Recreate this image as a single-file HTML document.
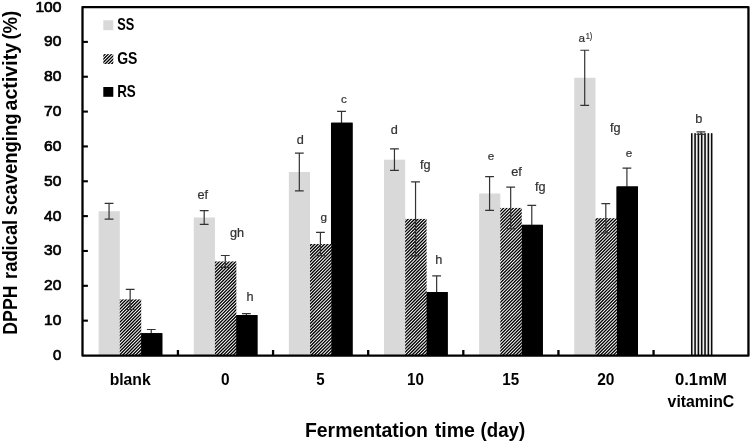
<!DOCTYPE html>
<html lang="en"><head><meta charset="utf-8"><title>DPPH radical scavenging activity</title>
<style>html,body{margin:0;padding:0;background:#fff}svg{display:block;will-change:transform}text{font-family:"Liberation Sans",sans-serif}.b{font-weight:400;fill:#000;stroke:#000;stroke-width:.7px;stroke-linejoin:round}.t{font-weight:700;fill:#000}.s{fill:#333;stroke:#333;stroke-width:.22px}</style>
</head><body>
<svg width="751" height="443" viewBox="0 0 751 443">
<defs>
<pattern id="hatch" patternUnits="userSpaceOnUse" width="26.0" height="26.0"><rect width="26.0" height="26.0" fill="#fff"/><path d="M-27.000,27.000 L1.000,-1.000 M-23.750,27.000 L4.250,-1.000 M-20.500,27.000 L7.500,-1.000 M-17.250,27.000 L10.750,-1.000 M-14.000,27.000 L14.000,-1.000 M-10.750,27.000 L17.250,-1.000 M-7.500,27.000 L20.500,-1.000 M-4.250,27.000 L23.750,-1.000 M-1.000,27.000 L27.000,-1.000 M2.250,27.000 L30.250,-1.000 M5.500,27.000 L33.500,-1.000 M8.750,27.000 L36.750,-1.000 M12.000,27.000 L40.000,-1.000 M15.250,27.000 L43.250,-1.000 M18.500,27.000 L46.500,-1.000 M21.750,27.000 L49.750,-1.000 M25.000,27.000 L53.000,-1.000" stroke="#000" stroke-width="1.25"/></pattern>
</defs>
<rect width="751" height="443" fill="#fff"/>
<rect x="98.61" y="211.24" width="21.20" height="144.26" fill="#d9d9d9"/>
<rect x="140.71" y="333.20" width="21.55" height="22.30" fill="#000"/>
<rect x="119.76" y="299.40" width="21.45" height="56.10" fill="url(#hatch)"/>
<rect x="193.74" y="217.51" width="21.20" height="137.99" fill="#d9d9d9"/>
<rect x="235.84" y="315.08" width="21.55" height="40.42" fill="#000"/>
<rect x="214.89" y="261.42" width="21.45" height="94.08" fill="url(#hatch)"/>
<rect x="288.87" y="172.04" width="21.20" height="183.46" fill="#d9d9d9"/>
<rect x="330.97" y="122.74" width="21.55" height="232.76" fill="#000"/>
<rect x="310.02" y="244.00" width="21.45" height="111.50" fill="url(#hatch)"/>
<rect x="384.00" y="159.67" width="21.20" height="195.83" fill="#d9d9d9"/>
<rect x="426.10" y="292.08" width="21.55" height="63.42" fill="#000"/>
<rect x="405.15" y="218.91" width="21.45" height="136.59" fill="url(#hatch)"/>
<rect x="479.13" y="193.47" width="21.20" height="162.03" fill="#d9d9d9"/>
<rect x="521.23" y="224.83" width="21.55" height="130.67" fill="#000"/>
<rect x="500.28" y="207.93" width="21.45" height="147.57" fill="url(#hatch)"/>
<rect x="574.26" y="77.79" width="21.20" height="277.71" fill="#d9d9d9"/>
<rect x="616.36" y="186.50" width="21.55" height="169.00" fill="#000"/>
<rect x="595.41" y="218.21" width="21.45" height="137.29" fill="url(#hatch)"/>
<rect x="691.0" y="133.19" width="21.4" height="222.31" fill="#efefef"/>
<rect x="690.97" y="133.19" width="1.56" height="222.31" fill="#0a0a0a"/>
<rect x="694.29" y="133.19" width="1.56" height="222.31" fill="#0a0a0a"/>
<rect x="697.61" y="133.19" width="1.56" height="222.31" fill="#0a0a0a"/>
<rect x="700.93" y="133.19" width="1.56" height="222.31" fill="#0a0a0a"/>
<rect x="704.25" y="133.19" width="1.56" height="222.31" fill="#0a0a0a"/>
<rect x="707.57" y="133.19" width="1.56" height="222.31" fill="#0a0a0a"/>
<rect x="710.89" y="133.19" width="1.56" height="222.31" fill="#0a0a0a"/>
<path d="M109.06,203.40 V219.08 M104.66,203.40 H113.46 M104.66,219.08 H113.46" stroke="#333" stroke-width="1.2" fill="none"/>
<path d="M130.16,289.29 V309.50 M125.76,289.29 H134.56 M125.76,309.50 H134.56" stroke="#333" stroke-width="1.2" fill="none"/>
<path d="M151.26,329.51 V336.89 M146.86,329.51 H155.66 M146.86,336.89 H155.66" stroke="#333" stroke-width="1.2" fill="none"/>
<path d="M204.19,210.72 V224.31 M199.79,210.72 H208.59 M199.79,224.31 H208.59" stroke="#333" stroke-width="1.2" fill="none"/>
<path d="M225.29,255.49 V267.34 M220.89,255.49 H229.69 M220.89,267.34 H229.69" stroke="#333" stroke-width="1.2" fill="none"/>
<path d="M246.39,313.58 V316.58 M241.99,313.58 H250.79 M241.99,316.58 H250.79" stroke="#333" stroke-width="1.2" fill="none"/>
<path d="M299.32,153.22 V190.86 M294.92,153.22 H303.72 M294.92,190.86 H303.72" stroke="#333" stroke-width="1.2" fill="none"/>
<path d="M320.42,232.29 V255.70 M316.02,232.29 H324.82 M316.02,255.70 H324.82" stroke="#333" stroke-width="1.2" fill="none"/>
<path d="M341.52,111.41 V134.06 M337.12,111.41 H345.92 M337.12,134.06 H345.92" stroke="#333" stroke-width="1.2" fill="none"/>
<path d="M394.45,148.87 V170.47 M390.05,148.87 H398.85 M390.05,170.47 H398.85" stroke="#333" stroke-width="1.2" fill="none"/>
<path d="M415.55,181.97 V255.84 M411.15,181.97 H419.95 M411.15,255.84 H419.95" stroke="#333" stroke-width="1.2" fill="none"/>
<path d="M436.65,275.88 V308.29 M432.25,275.88 H441.05 M432.25,308.29 H441.05" stroke="#333" stroke-width="1.2" fill="none"/>
<path d="M489.58,176.54 V210.41 M485.18,176.54 H493.98 M485.18,210.41 H493.98" stroke="#333" stroke-width="1.2" fill="none"/>
<path d="M510.68,187.09 V228.77 M506.28,187.09 H515.08 M506.28,228.77 H515.08" stroke="#333" stroke-width="1.2" fill="none"/>
<path d="M531.78,205.42 V244.24 M527.38,205.42 H536.18 M527.38,244.24 H536.18" stroke="#333" stroke-width="1.2" fill="none"/>
<path d="M584.71,50.26 V105.31 M580.31,50.26 H589.11 M580.31,105.31 H589.11" stroke="#333" stroke-width="1.2" fill="none"/>
<path d="M605.81,203.58 V232.85 M601.41,203.58 H610.21 M601.41,232.85 H610.21" stroke="#333" stroke-width="1.2" fill="none"/>
<path d="M626.91,168.03 V204.97 M622.51,168.03 H631.31 M622.51,204.97 H631.31" stroke="#333" stroke-width="1.2" fill="none"/>
<path d="M700.94,131.97 V134.41 M696.54,131.97 H705.34 M696.54,134.41 H705.34" stroke="#333" stroke-width="1.2" fill="none"/>
<rect x="141.56" y="333.20" width="20.75" height="22.30" fill="#000"/>
<rect x="236.69" y="315.08" width="20.75" height="40.42" fill="#000"/>
<rect x="331.82" y="122.74" width="20.75" height="232.76" fill="#000"/>
<rect x="426.95" y="292.08" width="20.75" height="63.42" fill="#000"/>
<rect x="522.08" y="224.83" width="20.75" height="130.67" fill="#000"/>
<rect x="617.21" y="186.50" width="20.75" height="169.00" fill="#000"/>
<rect x="82.50" y="7.05" width="665.95" height="348.60" fill="none" stroke="#000" stroke-width="2.3" stroke-linejoin="round"/>
<path d="M82.60,320.65 H87.90" stroke="#000" stroke-width="2.1"/>
<path d="M82.60,285.81 H87.90" stroke="#000" stroke-width="2.1"/>
<path d="M82.60,250.97 H87.90" stroke="#000" stroke-width="2.1"/>
<path d="M82.60,216.12 H87.90" stroke="#000" stroke-width="2.1"/>
<path d="M82.60,181.28 H87.90" stroke="#000" stroke-width="2.1"/>
<path d="M82.60,146.43 H87.90" stroke="#000" stroke-width="2.1"/>
<path d="M82.60,111.59 H87.90" stroke="#000" stroke-width="2.1"/>
<path d="M82.60,76.74 H87.90" stroke="#000" stroke-width="2.1"/>
<path d="M82.60,41.90 H87.90" stroke="#000" stroke-width="2.1"/>
<path d="M177.93,355.50 V350.00" stroke="#000" stroke-width="2.3"/>
<path d="M273.06,355.50 V350.00" stroke="#000" stroke-width="2.3"/>
<path d="M368.19,355.50 V350.00" stroke="#000" stroke-width="2.3"/>
<path d="M463.31,355.50 V350.00" stroke="#000" stroke-width="2.3"/>
<path d="M558.44,355.50 V350.00" stroke="#000" stroke-width="2.3"/>
<path d="M653.57,355.50 V350.00" stroke="#000" stroke-width="2.3"/>
<text class="b" x="53.10" y="360.00" font-size="14.8" textLength="8.3" lengthAdjust="spacingAndGlyphs">0</text>
<text class="b" x="44.10" y="325.15" font-size="14.8" textLength="17.3" lengthAdjust="spacingAndGlyphs">10</text>
<text class="b" x="44.10" y="290.31" font-size="14.8" textLength="17.3" lengthAdjust="spacingAndGlyphs">20</text>
<text class="b" x="44.10" y="255.47" font-size="14.8" textLength="17.3" lengthAdjust="spacingAndGlyphs">30</text>
<text class="b" x="44.10" y="220.62" font-size="14.8" textLength="17.3" lengthAdjust="spacingAndGlyphs">40</text>
<text class="b" x="44.10" y="185.78" font-size="14.8" textLength="17.3" lengthAdjust="spacingAndGlyphs">50</text>
<text class="b" x="44.10" y="150.93" font-size="14.8" textLength="17.3" lengthAdjust="spacingAndGlyphs">60</text>
<text class="b" x="44.10" y="116.09" font-size="14.8" textLength="17.3" lengthAdjust="spacingAndGlyphs">70</text>
<text class="b" x="44.10" y="81.24" font-size="14.8" textLength="17.3" lengthAdjust="spacingAndGlyphs">80</text>
<text class="b" x="44.10" y="46.40" font-size="14.8" textLength="17.3" lengthAdjust="spacingAndGlyphs">90</text>
<text class="b" x="35.40" y="11.55" font-size="14.8" textLength="26.0" lengthAdjust="spacingAndGlyphs">100</text>
<text class="t" x="109.66" y="384.9" font-size="15.6" textLength="41.0" lengthAdjust="spacingAndGlyphs">blank</text>
<text class="t" x="220.99" y="384.9" font-size="15.6" textLength="8.6" lengthAdjust="spacingAndGlyphs">0</text>
<text class="t" x="316.22" y="384.9" font-size="15.6" textLength="8.4" lengthAdjust="spacingAndGlyphs">5</text>
<text class="t" x="407.10" y="384.9" font-size="15.6" textLength="16.9" lengthAdjust="spacingAndGlyphs">10</text>
<text class="t" x="502.23" y="384.9" font-size="15.6" textLength="16.9" lengthAdjust="spacingAndGlyphs">15</text>
<text class="t" x="597.16" y="384.9" font-size="15.6" textLength="17.3" lengthAdjust="spacingAndGlyphs">20</text>
<text class="t" x="674.94" y="384.9" font-size="15.6" textLength="52" lengthAdjust="spacingAndGlyphs">0.1mM</text>
<text class="t" x="667.64" y="406.9" font-size="15.6" textLength="66.6" lengthAdjust="spacingAndGlyphs">vitaminC</text>
<text class="t" x="304.9" y="437.4" font-size="19.6" textLength="123.1" lengthAdjust="spacingAndGlyphs">Fermentation</text>
<text class="t" x="434.8" y="437.4" font-size="19.6" textLength="40.2" lengthAdjust="spacingAndGlyphs">time</text>
<text class="t" x="480.6" y="437.4" font-size="19.6" textLength="44.6" lengthAdjust="spacingAndGlyphs">(day)</text>
<text class="t" transform="translate(17.2,334.70) rotate(-90)" font-size="19.8" textLength="49.3" lengthAdjust="spacingAndGlyphs">DPPH</text>
<text class="t" transform="translate(17.2,278.90) rotate(-90)" font-size="19.8" textLength="59.1" lengthAdjust="spacingAndGlyphs">radical</text>
<text class="t" transform="translate(17.2,215.20) rotate(-90)" font-size="19.8" textLength="101.7" lengthAdjust="spacingAndGlyphs">scavenging</text>
<text class="t" transform="translate(17.2,110.50) rotate(-90)" font-size="19.8" textLength="67.7" lengthAdjust="spacingAndGlyphs">activity</text>
<text class="t" transform="translate(17.2,39.60) rotate(-90)" font-size="19.8" textLength="28.9" lengthAdjust="spacingAndGlyphs">(%)</text>
<rect x="103.3" y="20.3" width="10" height="9.9" fill="#d9d9d9"/>
<rect x="103.3" y="54.1" width="10" height="9.9" fill="url(#hatch)"/>
<rect x="103.3" y="87" width="10" height="9.8" fill="#000"/>
<text class="t" x="117.3" y="29.9" font-size="16.2" textLength="17" lengthAdjust="spacingAndGlyphs">SS</text>
<text class="t" x="117.2" y="63.7" font-size="16.2" textLength="20.2" lengthAdjust="spacingAndGlyphs">GS</text>
<text class="t" x="117.2" y="96.5" font-size="16.2" textLength="18.6" lengthAdjust="spacingAndGlyphs">RS</text>
<text class="s" x="230.0" y="236.6" font-size="12.7">gh</text>
<text class="s" x="246.4" y="301.2" font-size="12.7">h</text>
<text class="s" x="296.7" y="144.0" font-size="12.7">d</text>
<text class="s" x="320.4" y="220.9" font-size="11.7">g</text>
<text class="s" x="341.0" y="103.2" font-size="11.7">c</text>
<text class="s" x="390.7" y="134.0" font-size="12.7">d</text>
<text class="s" x="420.0" y="169.0" font-size="12.7">fg</text>
<text class="s" x="435.3" y="264.3" font-size="12.7">h</text>
<text class="s" x="487.7" y="159.9" font-size="11.7">e</text>
<text class="s" x="511.3" y="175.9" font-size="12.7">ef</text>
<text class="s" x="535.0" y="191.4" font-size="12.7">fg</text>
<text class="s" x="610.0" y="132.3" font-size="12.7">fg</text>
<text class="s" x="625.7" y="156.5" font-size="11.7">e</text>
<text class="s" x="695.3" y="122.9" font-size="12.7">b</text>
<text class="s" x="197.4" y="199.0" font-size="12.7">ef</text>
<text class="s" x="578.4" y="42.4" font-size="11.7">a</text>
<text class="s" x="585.7" y="38.7" font-size="8.8" textLength="6.6" lengthAdjust="spacingAndGlyphs">1)</text>
</svg></body></html>
